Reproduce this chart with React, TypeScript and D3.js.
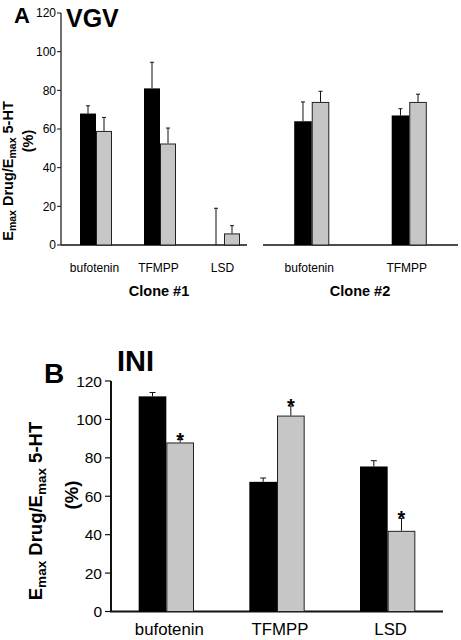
import React from "react";
import * as d3 from "d3";

// ---- Panel A (VGV) data ----
const clone1Drugs = ["bufotenin", "TFMPP", "LSD"];
const clone1Black = [68, 81, 0];
const clone1BlackErr = [4, 13.5, 19];
const clone1Gray = [59, 52.5, 6];
const clone1GrayErr = [7, 8, 4];

const clone2Drugs = ["bufotenin", "TFMPP"];
const clone2Black = [64, 67];
const clone2BlackErr = [10, 3.5];
const clone2Gray = [74, 74];
const clone2GrayErr = [5.5, 4];

// ---- Panel B (INI) data ----
const iniDrugs = ["bufotenin", "TFMPP", "LSD"];
const iniBlack = [112, 67.5, 75.5];
const iniBlackErr = [2, 2, 3];
const iniGray = [88, 102, 42];
const iniGrayErr = [1.5, 5, 6.5];
const iniGrayStar = [true, true, true];

const yTicks = [0, 20, 40, 60, 80, 100, 120];

const FONT = "'Liberation Sans', Arial, Helvetica, sans-serif";
const GRAY = "#c6c6c6";

type GroupProps = {
  drugs: string[];
  black: number[];
  blackErr: number[];
  gray: number[];
  grayErr: number[];
  stars?: boolean[];
  x: d3.ScaleBand<string>;
  y: d3.ScaleLinear<number, number>;
  cap: number;
  starSize?: number;
  labelSize: number;
  labelY: number;
  labelDx: number;
};

function Bars(p: GroupProps) {
  const y0 = p.y(0);
  const half = p.x.bandwidth() / 2;
  return (
    <g>
      {p.drugs.map((d, i) => {
        const x0 = p.x(d)!;
        const bTop = p.y(p.black[i]);
        const gTop = p.y(p.gray[i]);
        const bErr = p.y(p.black[i] + p.blackErr[i]);
        const gErr = p.y(p.gray[i] + p.grayErr[i]);
        const bc = x0 + half / 2;
        const gc = x0 + half * 1.5;
        return (
          <g key={d}>
            {/* error bars */}
            <line x1={bc} x2={bc} y1={bTop} y2={bErr} stroke="#111" strokeWidth={1} />
            <line x1={bc - p.cap / 2} x2={bc + p.cap / 2} y1={bErr} y2={bErr} stroke="#111" strokeWidth={1} />
            <line x1={gc} x2={gc} y1={gTop} y2={gErr} stroke="#111" strokeWidth={1} />
            <line x1={gc - p.cap / 2} x2={gc + p.cap / 2} y1={gErr} y2={gErr} stroke="#111" strokeWidth={1} />
            {p.black[i] > 0 && (
              <rect x={x0} y={bTop} width={half} height={y0 - bTop} fill="#000" />
            )}
            {p.gray[i] > 0 && (
              <rect x={x0 + half + 0.5} y={gTop + 0.5} width={half - 1} height={y0 - gTop - 0.5} fill={GRAY} stroke="#222" strokeWidth={1} />
            )}
            {p.stars && p.stars[i] && (
              <text x={gc} y={gErr + 7} textAnchor="middle" fontFamily={FONT} fontWeight="bold" fontSize={p.starSize}>
                *
              </text>
            )}
            <text x={x0 + half + p.labelDx} y={p.labelY} textAnchor="middle" fontFamily={FONT} fontSize={p.labelSize}>
              {d}
            </text>
          </g>
        );
      })}
    </g>
  );
}

export default function App() {
  // Panel A scales
  const yA = d3.scaleLinear().domain([0, 120]).range([245, 13]);
  const xA1 = d3.scaleBand<string>().domain(clone1Drugs).range([64, 256]).paddingInner(0.5).paddingOuter(0.25);
  const xA2 = d3.scaleBand<string>().domain(clone2Drugs).range([263, 458]).paddingInner(0.64).paddingOuter(0.32);
  // Panel B scales
  const yB = d3.scaleLinear().domain([0, 120]).range([611.5, 381]);
  const xB = d3.scaleBand<string>().domain(iniDrugs).range([111, 443]).paddingInner(0.5).paddingOuter(0.25);

  return (
    <svg width={461} height={640} style={{ position: "absolute", left: 0, top: 0, background: "#fff" }}>
      <rect x={0} y={0} width={461} height={640} fill="#fff" />
      {/* ---------- Panel A ---------- */}
      <text x={14} y={23} fontFamily={FONT} fontWeight="bold" fontSize={22}>A</text>
      <text x={66} y={27} fontFamily={FONT} fontWeight="bold" fontSize={25}>VGV</text>
      {/* y axis */}
      <line x1={61} x2={61} y1={yA(120)} y2={yA(0)} stroke="#111" strokeWidth={1.2} />
      {yTicks.map((t) => (
        <g key={"ta" + t}>
          <line x1={57} x2={61} y1={yA(t)} y2={yA(t)} stroke="#111" strokeWidth={1} />
          <text x={56} y={yA(t)} dy="0.36em" textAnchor="end" fontFamily={FONT} fontSize={12}>{t}</text>
        </g>
      ))}
      {/* baselines */}
      <line x1={61} x2={247} y1={yA(0)} y2={yA(0)} stroke="#111" strokeWidth={1.4} />
      <line x1={263} x2={458} y1={yA(0)} y2={yA(0)} stroke="#111" strokeWidth={1.4} />
      <Bars drugs={clone1Drugs} black={clone1Black} blackErr={clone1BlackErr} gray={clone1Gray} grayErr={clone1GrayErr}
        x={xA1} y={yA} cap={4} labelSize={12} labelY={271.5} labelDx={-1.5} />
      <Bars drugs={clone2Drugs} black={clone2Black} blackErr={clone2BlackErr} gray={clone2Gray} grayErr={clone2GrayErr}
        x={xA2} y={yA} cap={4} labelSize={12} labelY={271.5} labelDx={-2.5} />
      <text x={159} y={296} textAnchor="middle" fontFamily={FONT} fontWeight="bold" fontSize={14.5}>Clone #1</text>
      <text x={360} y={296} textAnchor="middle" fontFamily={FONT} fontWeight="bold" fontSize={14.5}>Clone #2</text>
      {/* y label A */}
      <text transform="translate(13,171) rotate(-90)" textAnchor="middle" fontFamily={FONT} fontWeight="bold" fontSize={14.5}>
        E<tspan fontSize={10.5} dy={3}>max</tspan><tspan dy={-3}> Drug/E</tspan><tspan fontSize={10.5} dy={3}>max</tspan><tspan dy={-3}> 5-HT</tspan>
      </text>
      <text transform="translate(33,141) rotate(-90)" textAnchor="middle" fontFamily={FONT} fontWeight="bold" fontSize={14.5}>(%)</text>

      {/* ---------- Panel B ---------- */}
      <text x={44} y={383} fontFamily={FONT} fontWeight="bold" fontSize={28}>B</text>
      <text x={117} y={371} fontFamily={FONT} fontWeight="bold" fontSize={29}>INI</text>
      <line x1={111} x2={111} y1={yB(120)} y2={yB(0)} stroke="#111" strokeWidth={2} />
      {yTicks.map((t) => (
        <g key={"tb" + t}>
          <line x1={105} x2={111} y1={yB(t)} y2={yB(t)} stroke="#111" strokeWidth={1.2} />
          <text x={102} y={yB(t)} dy="0.36em" textAnchor="end" fontFamily={FONT} fontSize={15.5}>{t}</text>
        </g>
      ))}
      <line x1={110} x2={443} y1={yB(0)} y2={yB(0)} stroke="#111" strokeWidth={2} />
      <Bars drugs={iniDrugs} black={iniBlack} blackErr={iniBlackErr} gray={iniGray} grayErr={iniGrayErr} stars={iniGrayStar}
        x={xB} y={yB} cap={6} starSize={20} labelSize={16.8} labelY={635} labelDx={3} />
      <text transform="translate(42,511) rotate(-90)" textAnchor="middle" fontFamily={FONT} fontWeight="bold" fontSize={18.5}>
        E<tspan fontSize={13.5} dy={4}>max</tspan><tspan dy={-4}> Drug/E</tspan><tspan fontSize={13.5} dy={4}>max</tspan><tspan dy={-4}> 5-HT</tspan>
      </text>
      <text transform="translate(78,495) rotate(-90)" textAnchor="middle" fontFamily={FONT} fontWeight="bold" fontSize={18.5}>(%)</text>
    </svg>
  );
}
